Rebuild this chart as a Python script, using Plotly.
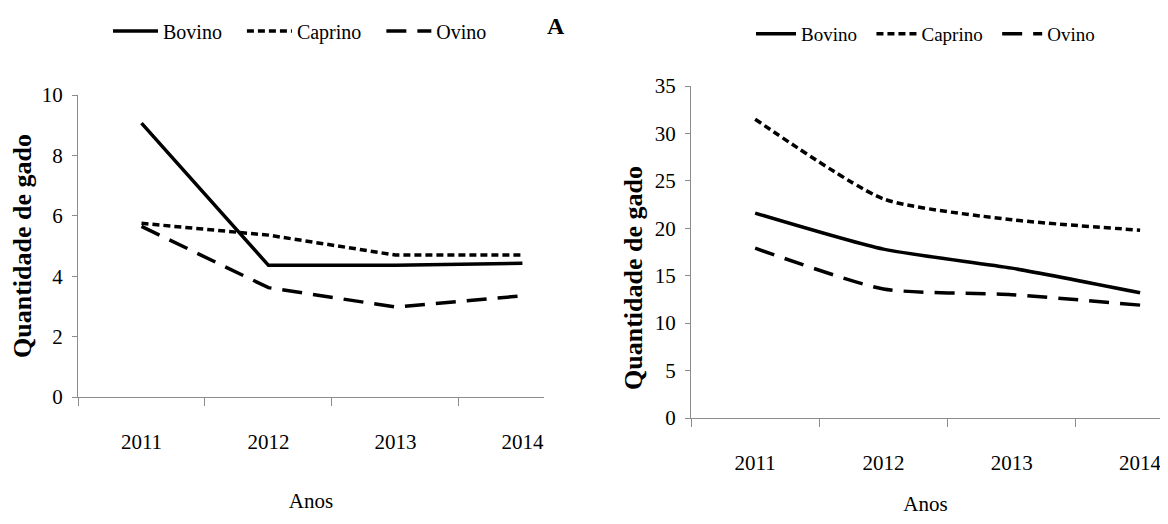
import plotly.graph_objects as go

years = ["2011", "2012", "2013", "2014"]

# Left panel (A)
a_bovino = [9.07, 4.36, 4.36, 4.43]
a_caprino = [5.75, 5.36, 4.70, 4.70]
a_ovino = [5.65, 3.62, 2.98, 3.35]

# Right panel
b_bovino = [21.6, 17.8, 15.8, 13.2]
b_caprino = [31.5, 23.1, 20.9, 19.8]
b_ovino = [17.9, 13.6, 13.0, 11.9]

series_names = ["Bovino", "Caprino", "Ovino"]

FONT = "Liberation Serif"
OFF = 8  # page body margin
W, H = 1168 - 2 * OFF, 524 - 2 * OFF


def fx(p):
    return (p - OFF) / W


def fy(p):
    return 1 - (p - OFF) / H


fig = go.Figure()

styles = {
    "Bovino": dict(color="black", width=3.5, dash="solid"),
    "Caprino": dict(color="black", width=3.5, dash="7px,4px"),
    "Ovino": dict(color="black", width=3.5, dash="20px,11px"),
}
PAD_L = "\u00a0\u00a0\u00a0"
PAD_R = "\u00a0\u00a0"

for name, vals in zip(series_names, [a_bovino, a_caprino, a_ovino]):
    fig.add_trace(go.Scatter(x=years, y=vals, mode="lines", name=name + PAD_L,
                             line=styles[name], xaxis="x", yaxis="y", legend="legend"))

for name, vals in zip(series_names, [b_bovino, b_caprino, b_ovino]):
    fig.add_trace(go.Scatter(x=years, y=vals, mode="lines", name=name + PAD_R,
                             line=dict(**styles[name], shape="spline", smoothing=0.6),
                             xaxis="x2", yaxis="y2", legend="legend2"))

axis_common = dict(showline=True, linecolor="#8c8c8c", linewidth=1, showgrid=False,
                   zeroline=False, ticks="outside", tickcolor="#8c8c8c", automargin=False,
                   tickfont=dict(family=FONT, size=21, color="black"))

TITLE_Y = "<b>Quantidade de gado</b>"

fig.update_layout(
    template="none",
    width=W, height=H, autosize=False,
    margin=dict(l=0, r=0, t=0, b=0, pad=0),
    paper_bgcolor="white", plot_bgcolor="white",
    showlegend=True,
    xaxis=dict(**axis_common, domain=[fx(78), fx(544)], anchor="y",
               type="category", range=[-0.5, 3.17], tickson="boundaries", ticklen=8,
               ticklabelstandoff=26,
               title=dict(text="Anos", font=dict(family=FONT, size=21, color="black"), standoff=40)),
    yaxis=dict(**axis_common, domain=[fy(397), fy(95)], anchor="x",
               range=[0, 10], dtick=2, ticklen=5, ticklabelstandoff=5,
               title=dict(text=TITLE_Y, font=dict(family=FONT, size=26, color="black"), standoff=16)),
    xaxis2=dict(**axis_common, domain=[fx(691), 1.0], anchor="y2",
                type="category", range=[-0.5, 3.155], tickson="boundaries", ticklen=8,
                ticklabelstandoff=26,
                title=dict(text="Anos", font=dict(family=FONT, size=21, color="black"), standoff=30)),
    yaxis2=dict(**axis_common, domain=[fy(418), fy(86)], anchor="x2",
                range=[0, 35], dtick=5, ticklen=5, ticklabelstandoff=5),
    legend=dict(orientation="h", x=fx(108), y=fy(31), xanchor="left", yanchor="middle",
                font=dict(family=FONT, size=20, color="black"), bgcolor="rgba(0,0,0,0)",
                itemwidth=45, tracegroupgap=0),
    legend2=dict(orientation="h", x=fx(751), y=fy(34), xanchor="left", yanchor="middle",
                 font=dict(family=FONT, size=19, color="black"), bgcolor="rgba(0,0,0,0)",
                 itemwidth=40, tracegroupgap=0),
    annotations=[
        dict(text="<b>A</b>", x=fx(556), y=fy(26), xref="paper", yref="paper",
             xanchor="center", yanchor="middle",
             showarrow=False, font=dict(family=FONT, size=24, color="black")),
        dict(text=TITLE_Y, x=fx(633), y=fy(278), xref="paper", yref="paper",
             textangle=-90, showarrow=False, xanchor="center", yanchor="middle",
             font=dict(family=FONT, size=26, color="black")),
    ],
)

fig.write_html("out.html")
